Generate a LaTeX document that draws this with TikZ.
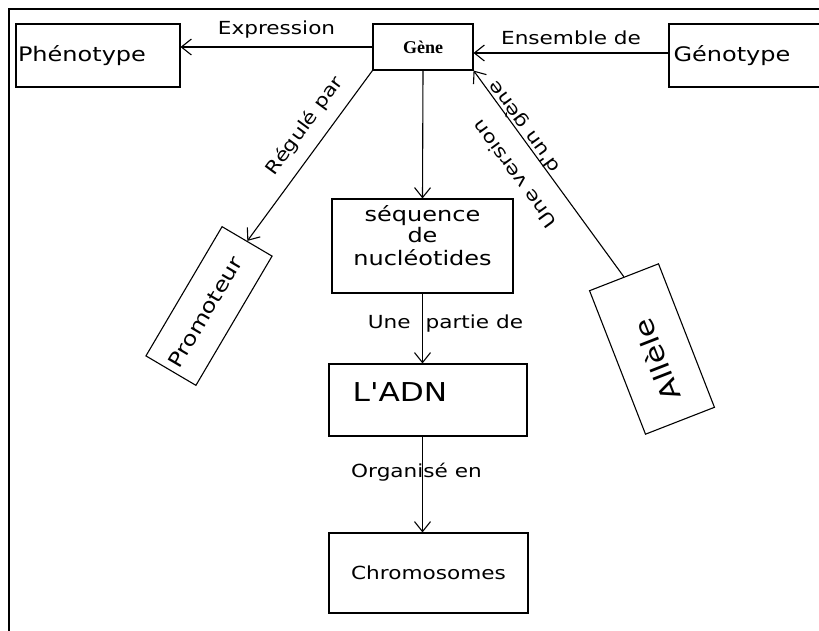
\documentclass[tikz,border=0pt]{standalone}
\usepackage{fontspec}
\usetikzlibrary{arrows.meta}
\newfontfamily\hand{DejaVu Sans}[FakeStretch=1.2]
\newfontfamily\gfont{Liberation Serif}
\begin{document}
\begin{tikzpicture}[x=1pt,y=-1pt,
  box/.style={draw, line width=1.1pt, inner sep=0pt, font=\hand\fontsize{20}{21}\selectfont},
  arr/.style={line width=1.1pt, -{Straight Barb[length=10pt,width=16pt]}},
  lbl/.style={font=\hand\fontsize{18}{22}\selectfont, inner xsep=2pt, inner ysep=8pt}]
\useasboundingbox (0,0) rectangle (819,630);
\fill[white] (0,0) rectangle (819,630);
\draw[line width=1.6pt] (9,9) rectangle (840,650);

\node[box, minimum width=164pt, minimum height=63pt] (phen) at (98,55.5) {Phénotype\hspace*{32pt}};
\node[box, minimum width=100pt, minimum height=46pt, font=\gfont\bfseries\fontsize{18}{20}\selectfont] (gene) at (423,47) {Gène};
\node[box, minimum width=171pt, minimum height=63pt] (geno) at (754.5,55.5) {Génotype\hspace*{45pt}};
\node[box, minimum width=181pt, minimum height=94pt] (seq) at (422.5,246) {\begin{tabular}{@{}c@{}}séquence\\de\\nucléotides\\[15pt]\end{tabular}};
\node[box, minimum width=198pt, minimum height=72pt, font=\hand\fontsize{26}{28}\selectfont, text depth=16pt] (adn) at (428,400) {L'ADN\hspace*{56pt}};
\node[box, minimum width=199pt, minimum height=80pt, font=\hand\fontsize{18}{20}\selectfont] (chrom) at (428.5,573) {Chromosomes};
\node[box, rotate=59.5, minimum width=150pt, minimum height=58pt] (prom) at (209,306) {Promoteur\hspace*{14pt}};
\node[box, rotate=111.3, minimum width=154pt, minimum height=74pt, font=\hand\fontsize{26}{28}\selectfont] (allele) at (652,349) {Allèle\hspace*{24pt}};

\draw[arr] (gene.west) -- (gene.west -| phen.east) node[midway, above, lbl] {Expression};
\draw[arr] ([yshift=-6pt]gene.east -| geno.west) -- ([yshift=-6pt]gene.east) node[midway, above, lbl] {Ensemble de};
\draw[arr] (gene.south) -- (seq.north);
\draw[arr] (gene.south west) -- (prom.east) node[pos=0.4, sloped, above, lbl, inner ysep=12pt] {Régulé par};
\draw[arr] (allele.east) -- (gene.south east) node[pos=0.62, sloped, allow upside down, font=\hand\fontsize{18}{35}\selectfont, inner sep=0pt] {\begin{tabular}{@{}l@{}}Une version\\\hspace*{43pt}d'un gène\\[22pt]\end{tabular}};
\draw[arr] (seq.south) -- (seq.south |- adn.north) node[pos=0.43, lbl, inner ysep=2pt, xshift=23pt] {Une\hspace{15pt}partie de};
\draw[arr] (seq.south |- adn.south) -- (seq.south |- chrom.north) node[pos=0.37, lbl, inner ysep=2pt, xshift=-6pt] {Organisé en};
\end{tikzpicture}
\end{document}
